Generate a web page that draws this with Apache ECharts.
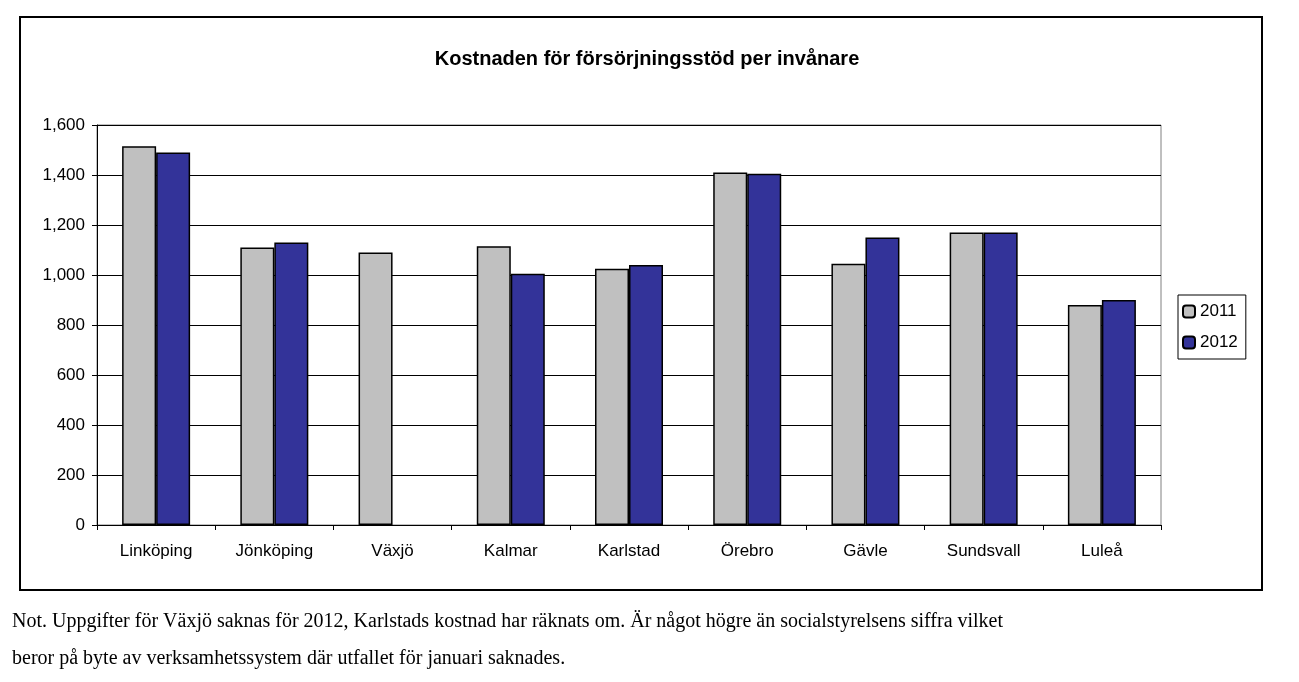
<!DOCTYPE html>
<html><head><meta charset="utf-8">
<script src="https://cdn.jsdelivr.net/npm/echarts@6/dist/echarts.min.js"></script>
<style>html,body{margin:0;padding:0;background:#fff}#c{width:1299px;height:682px}</style>
</head><body><div id="c"></div>
<script>
const categories = ['Linköping','Jönköping','Växjö','Kalmar','Karlstad','Örebro','Gävle','Sundsvall','Luleå'];
const values2011 = [1515,1110,1090,1115,1025,1410,1045,1170,880];
const values2012 = [1490,1130,null,1005,1040,1405,1150,1170,900];
const seriesNames = ['2011','2012'];
const chart = echarts.init(document.getElementById('c'));
const font = 'Arial, "Liberation Sans", sans-serif';
chart.setOption({
  animation:false,
  title:{text:'Kostnaden för försörjningsstöd per invånare',left:642,top:44,textAlign:'center',
    textStyle:{fontFamily:font,fontSize:20,fontWeight:'bold',color:'#000'}},
  grid:{left:97,right:138,top:125,bottom:157},
  legend:{orient:'vertical',left:1178,top:295,itemWidth:12,itemHeight:12,itemGap:14,
    padding:[8,8,8,4],borderColor:'#000',borderWidth:1,
    textStyle:{fontFamily:font,fontSize:17,color:'#000'}},
  xAxis:{type:'category',data:categories,axisTick:{show:true,alignWithLabel:false,length:5,lineStyle:{color:'#000'}},
    axisLine:{lineStyle:{color:'#000'}},
    axisLabel:{fontFamily:font,fontSize:17,color:'#000',margin:18}},
  yAxis:{type:'value',min:0,max:1600,interval:200,
    axisLine:{show:true,lineStyle:{color:'#000'}},axisTick:{show:true,length:5,lineStyle:{color:'#000'}},
    splitLine:{lineStyle:{color:'#000',width:1}},
    axisLabel:{fontFamily:font,fontSize:17,color:'#000',margin:12}},
  series:[
    {name:seriesNames[0],type:'bar',data:values2011,barWidth:34,barGap:'0%',
      itemStyle:{color:'#c0c0c0',borderColor:'#000',borderWidth:1.5}},
    {name:seriesNames[1],type:'bar',data:values2012,barWidth:34,barGap:'0%',
      itemStyle:{color:'#333399',borderColor:'#000',borderWidth:1.5}}
  ],
  graphic:[
    {type:'rect',shape:{x:20,y:17,width:1242,height:573},style:{fill:'none',stroke:'#000',lineWidth:2},silent:true},
    {type:'rect',shape:{x:97,y:125,width:1064,height:400},style:{fill:'none',stroke:'#808080',lineWidth:1},silent:true},
    {type:'text',left:12,top:612,style:{text:'Not. Uppgifter för Växjö saknas för 2012, Karlstads kostnad har räknats om. Är något högre än socialstyrelsens siffra vilket',
      font:'20px "Liberation Serif", "Times New Roman", serif',fill:'#000'}},
    {type:'text',left:12,top:649,style:{text:'beror på byte av verksamhetssystem där utfallet för januari saknades.',
      font:'20px "Liberation Serif", "Times New Roman", serif',fill:'#000'}}
  ]
});
</script></body></html>
